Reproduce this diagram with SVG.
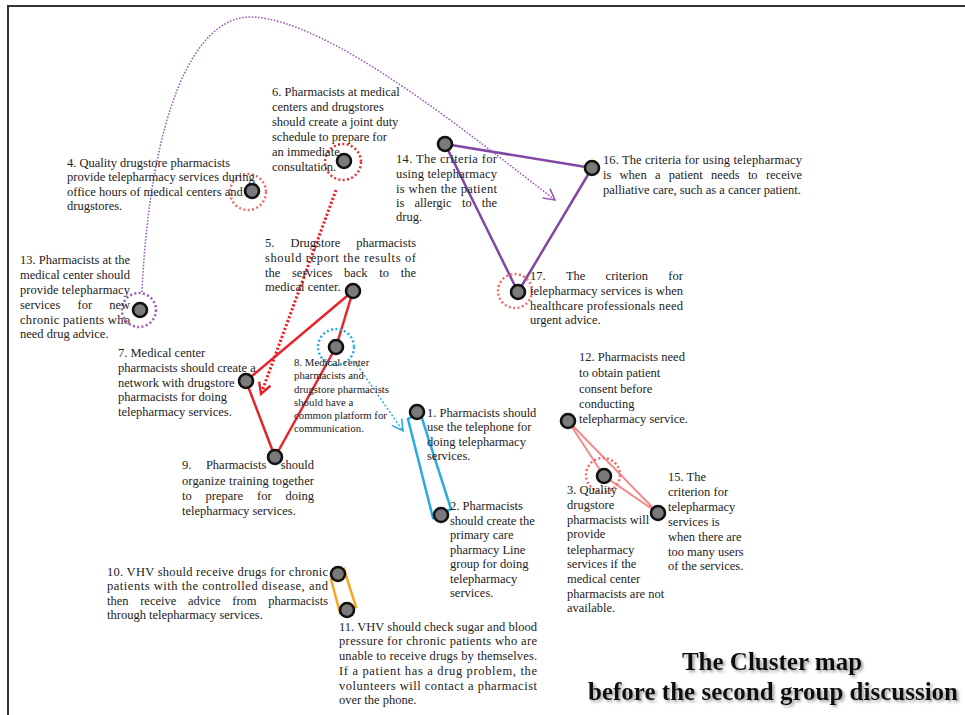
<svg xmlns="http://www.w3.org/2000/svg" width="965" height="715" viewBox="0 0 965 715">
<defs>
<style>
.t{font-family:"Liberation Serif","Times New Roman",serif;font-size:12.5px;fill:#222}
.s{font-family:"Liberation Serif","Times New Roman",serif;font-size:10.8px;fill:#222}
.n{fill:#7a7a7a;stroke:#111;stroke-width:2.6}
.halo{fill:none;stroke-width:2.5;stroke-dasharray:2 2.4}
.title{font-family:"Liberation Serif","Times New Roman",serif;font-size:25px;font-weight:bold;fill:#111;text-anchor:middle}
</style>
<filter id="sh" x="-10%" y="-30%" width="120%" height="160%"><feDropShadow dx="2" dy="2" stdDeviation="1.6" flood-color="#777" flood-opacity="0.7"/></filter>
<marker id="ap" markerUnits="userSpaceOnUse" markerWidth="16" markerHeight="16" refX="13" refY="7" orient="auto" viewBox="0 0 16 14"><path d="M2,1 L13,7 L2,13" fill="none" stroke="#9b59b6" stroke-width="1.6"/></marker>
<marker id="ar" markerUnits="userSpaceOnUse" markerWidth="16" markerHeight="16" refX="13" refY="7" orient="auto" viewBox="0 0 16 14"><path d="M2,1 L13,7 L2,13" fill="none" stroke="#ee1c24" stroke-width="2.4"/></marker>
<marker id="ab" markerUnits="userSpaceOnUse" markerWidth="16" markerHeight="16" refX="13" refY="7" orient="auto" viewBox="0 0 16 14"><path d="M2,1 L13,7 L2,13" fill="none" stroke="#29abe2" stroke-width="1.6"/></marker>
</defs>
<rect width="965" height="715" fill="#fff"/>
<path d="M8,715 V6 H965" fill="none" stroke="#333" stroke-width="2"/>

<g id="connectors" fill="none">
<path d="M142,292 C150,120 192,15 252,17 C330,20 470,135 555,200" stroke="#9b59b6" stroke-width="1.5" stroke-dasharray="1.6 1.6" marker-end="url(#ap)"/>
<path d="M336,190 L261,394" stroke="#ee1c24" stroke-width="3" stroke-dasharray="2.2 2" marker-end="url(#ar)"/>
<path d="M355,362 L403,431" stroke="#29abe2" stroke-width="1.5" stroke-dasharray="2 2" marker-end="url(#ab)"/>
<polygon points="445,144 592,168 518,292" stroke="#8246a5" stroke-width="2.5" stroke-linejoin="round"/>
<polygon points="353,291 246,381 275,457 336,347" stroke="#e8242b" stroke-width="2.5" stroke-linejoin="round"/>
<polygon points="408,419 420,412 451,509 433,518" stroke="#29abe2" stroke-width="2.5"/>
<polygon points="331,579 344,569 356,607 340,613" stroke="#f5a623" stroke-width="2.5"/>
<polygon points="568,421 604,476 658,513" stroke="#f38a8a" stroke-width="2"/>
</g>

<g id="node4">
<circle class="halo" cx="248" cy="192" r="18" stroke="#f36c6c"/>
<circle class="n" cx="252" cy="191" r="7"/>
<text class="t"><tspan x="67" y="167">4. Quality drugstore pharmacists</tspan><tspan x="67" y="181">provide telepharmacy services during</tspan><tspan x="67" y="196">office hours of medical centers and</tspan><tspan x="67" y="210">drugstores.</tspan></text>
</g>

<g id="node6">
<circle class="halo" cx="343" cy="162" r="18" stroke="#ee2a2a"/>
<circle class="n" cx="344" cy="161" r="7"/>
<text class="t"><tspan x="272" y="96">6. Pharmacists at medical</tspan><tspan x="272" y="111">centers and drugstores</tspan><tspan x="272" y="126">should create a joint duty</tspan><tspan x="272" y="141">schedule to prepare for</tspan><tspan x="272" y="156">an immediate</tspan><tspan x="272" y="171">consultation.</tspan></text>
</g>

<g id="node13">
<circle class="halo" cx="139" cy="310" r="17" stroke="#9b59b6"/>
<circle class="n" cx="140" cy="310" r="7"/>
<text class="t"><tspan x="20" y="264" textLength="110" lengthAdjust="spacing">13. Pharmacists at the</tspan><tspan x="20" y="279" textLength="110" lengthAdjust="spacing">medical center should</tspan><tspan x="20" y="294" textLength="110" lengthAdjust="spacing">provide telepharmacy</tspan><tspan x="20" y="309">services</tspan><tspan x="77.5" y="309">for</tspan><tspan x="109.2" y="309">new</tspan><tspan x="20" y="324" textLength="110" lengthAdjust="spacing">chronic patients who</tspan><tspan x="20" y="338">need drug advice.</tspan></text>
</g>

<g id="node14">
<circle class="n" cx="445" cy="144" r="7"/>
<text class="t"><tspan x="396" y="163" textLength="101" lengthAdjust="spacing">14. The criteria for</tspan><tspan x="396" y="178" textLength="101" lengthAdjust="spacing">using telepharmacy</tspan><tspan x="396" y="193" textLength="101" lengthAdjust="spacing">is when the patient</tspan><tspan x="396" y="207">is</tspan><tspan x="414.4" y="207">allergic</tspan><tspan x="462" y="207">to</tspan><tspan x="481.8" y="207">the</tspan><tspan x="396" y="221">drug.</tspan></text>
</g>

<g id="node16">
<circle class="n" cx="592" cy="168" r="7"/>
<text class="t"><tspan x="603" y="164" textLength="199" lengthAdjust="spacing">16. The criteria for using telepharmacy</tspan><tspan x="603" y="179">is</tspan><tspan x="619.6" y="179">when</tspan><tspan x="655" y="179">a</tspan><tspan x="668.8" y="179">patient</tspan><tspan x="711.1" y="179">needs</tspan><tspan x="747.9" y="179">to</tspan><tspan x="765.9" y="179">receive</tspan><tspan x="603" y="194">palliative care, such as a cancer patient.</tspan></text>
</g>

<g id="node17">
<circle class="halo" cx="515" cy="291" r="17" stroke="#f36c6c"/>
<circle class="n" cx="518" cy="292" r="7"/>
<text class="t"><tspan x="530" y="280">17.</tspan><tspan x="565.9" y="280">The</tspan><tspan x="605.6" y="280">criterion</tspan><tspan x="668.3" y="280">for</tspan><tspan x="530" y="295" textLength="153" lengthAdjust="spacing">telepharmacy services is when</tspan><tspan x="530" y="310" textLength="153" lengthAdjust="spacing">healthcare professionals need</tspan><tspan x="530" y="324">urgent advice.</tspan></text>
</g>

<g id="node5">
<circle class="n" cx="353" cy="291" r="7"/>
<text class="t"><tspan x="265" y="247">5.</tspan><tspan x="290.4" y="247">Drugstore</tspan><tspan x="356.3" y="247">pharmacists</tspan><tspan x="265" y="262" textLength="151" lengthAdjust="spacing">should report the results of</tspan><tspan x="265" y="277">the</tspan><tspan x="292" y="277">services</tspan><tspan x="344" y="277">back</tspan><tspan x="379.3" y="277">to</tspan><tspan x="400.7" y="277">the</tspan><tspan x="265" y="291">medical center.</tspan></text>
</g>

<g id="node8">
<circle class="halo" cx="336" cy="347" r="18" stroke="#29abe2"/>
<circle class="n" cx="336" cy="347" r="7"/>
<text class="s"><tspan x="294" y="366">8. Medical center</tspan><tspan x="294" y="379">pharmacists and</tspan><tspan x="294" y="393">drugstore pharmacists</tspan><tspan x="294" y="406">should have a</tspan><tspan x="294" y="419">common platform for</tspan><tspan x="294" y="432">communication.</tspan></text>
</g>

<g id="node7">
<circle class="n" cx="246" cy="381" r="7"/>
<text class="t"><tspan x="118" y="357">7. Medical center</tspan><tspan x="118" y="372">pharmacists should create a</tspan><tspan x="118" y="387">network with drugstore</tspan><tspan x="118" y="401">pharmacists for doing</tspan><tspan x="118" y="416">telepharmacy services.</tspan></text>
</g>

<g id="node9">
<circle class="n" cx="275" cy="457" r="7"/>
<text class="t"><tspan x="182" y="469">9.</tspan><tspan x="205.9" y="469">Pharmacists</tspan><tspan x="280.7" y="469">should</tspan><tspan x="182" y="485" textLength="132" lengthAdjust="spacing">organize training together</tspan><tspan x="182" y="500">to</tspan><tspan x="205.6" y="500">prepare</tspan><tspan x="257" y="500">for</tspan><tspan x="285.5" y="500">doing</tspan><tspan x="182" y="515">telepharmacy services.</tspan></text>
</g>

<g id="node1">
<circle class="n" cx="417" cy="412" r="7"/>
<text class="t"><tspan x="427" y="417">1. Pharmacists should</tspan><tspan x="427" y="431">use the telephone for</tspan><tspan x="427" y="446">doing telepharmacy</tspan><tspan x="427" y="460">services.</tspan></text>
</g>

<g id="node2">
<circle class="n" cx="441" cy="515" r="7"/>
<text class="t"><tspan x="450" y="510">2. Pharmacists</tspan><tspan x="450" y="525">should create the</tspan><tspan x="450" y="539">primary care</tspan><tspan x="450" y="554">pharmacy Line</tspan><tspan x="450" y="568">group for doing</tspan><tspan x="450" y="583">telepharmacy</tspan><tspan x="450" y="597">services.</tspan></text>
</g>

<g id="node12">
<circle class="n" cx="568" cy="421" r="7"/>
<text class="t"><tspan x="579" y="361">12. Pharmacists need</tspan><tspan x="579" y="377">to obtain patient</tspan><tspan x="579" y="393">consent before</tspan><tspan x="579" y="408">conducting</tspan><tspan x="579" y="423">telepharmacy service.</tspan></text>
</g>

<g id="node3">
<circle class="halo" cx="603" cy="475" r="17" stroke="#f36c6c"/>
<circle class="n" cx="604" cy="476" r="7"/>
<text class="t"><tspan x="567" y="494">3. Quality</tspan><tspan x="567" y="509">drugstore</tspan><tspan x="567" y="524">pharmacists will</tspan><tspan x="567" y="538">provide</tspan><tspan x="567" y="554">telepharmacy</tspan><tspan x="567" y="568">services if the</tspan><tspan x="567" y="583">medical center</tspan><tspan x="567" y="598">pharmacists are not</tspan><tspan x="567" y="612">available.</tspan></text>
</g>

<g id="node15">
<circle class="n" cx="658" cy="513" r="7"/>
<text class="t"><tspan x="668" y="481">15. The</tspan><tspan x="668" y="496">criterion for</tspan><tspan x="668" y="511">telepharmacy</tspan><tspan x="668" y="526">services is</tspan><tspan x="668" y="541">when there are</tspan><tspan x="668" y="556">too many users</tspan><tspan x="668" y="570">of the services.</tspan></text>
</g>

<g id="node10">
<circle class="n" cx="338" cy="574" r="7"/>
<text class="t"><tspan x="107" y="576" textLength="221" lengthAdjust="spacing">10. VHV should receive drugs for chronic</tspan><tspan x="107" y="590" textLength="221" lengthAdjust="spacing">patients with the controlled disease, and</tspan><tspan x="107" y="605">then</tspan><tspan x="140.2" y="605">receive</tspan><tspan x="188" y="605">advice</tspan><tspan x="232.3" y="605">from</tspan><tspan x="268.3" y="605">pharmacists</tspan><tspan x="107" y="619">through telepharmacy services.</tspan></text>
</g>

<g id="node11">
<circle class="n" cx="347" cy="610" r="7"/>
<text class="t"><tspan x="339" y="631" textLength="198" lengthAdjust="spacing">11. VHV should check sugar and blood</tspan><tspan x="339" y="645" textLength="198" lengthAdjust="spacing">pressure for chronic patients who are</tspan><tspan x="339" y="660" textLength="198" lengthAdjust="spacing">unable to receive drugs by themselves.</tspan><tspan x="339" y="675" textLength="198" lengthAdjust="spacing">If a patient has a drug problem, the</tspan><tspan x="339" y="690" textLength="198" lengthAdjust="spacing">volunteers will contact a pharmacist</tspan><tspan x="339" y="704">over the phone.</tspan></text>
</g>

<g id="title" filter="url(#sh)">
<text class="title" x="772" y="670">The Cluster map</text>
<text class="title" x="773" y="700" textLength="370" lengthAdjust="spacing">before the second group discussion</text>
</g>
</svg>
